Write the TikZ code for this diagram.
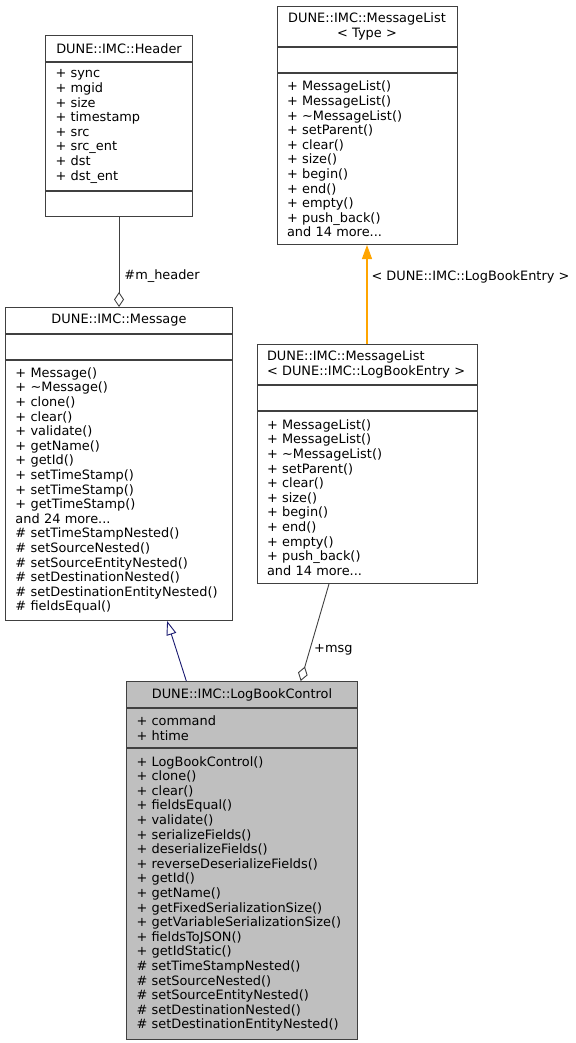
\documentclass[tikz,border=0pt]{standalone}
\usepackage{fontspec}
\setmainfont{DejaVu Sans}
\usepackage{xcolor}
\usetikzlibrary{positioning}
\usetikzlibrary{arrows.meta}
\usetikzlibrary{calc}
\definecolor{edgegray}{HTML}{404040}
\definecolor{isablue}{HTML}{191970}
\definecolor{tmplorange}{HTML}{FFA500}
\tikzset{umlbox/.style={draw=edgegray, fill=white, line width=1pt, anchor=north west,
inner xsep=10pt, inner ysep=0pt, align=left, font=\fontsize{12.9}{14.6}\selectfont},
umltitle/.style={umlbox, align=center},
lbl/.style={inner sep=3pt, font=\fontsize{12.9}{14.6}\selectfont},
hasa/.style={draw=edgegray, line width=0.9pt, -{Diamond[open, length=15pt, width=10pt]}},
isa/.style={draw=isablue, line width=0.9pt, -{Triangle[open, length=14pt, width=10pt]}},
tmpl/.style={draw=tmplorange, line width=1.1pt, -{Triangle[length=14pt, width=10pt]}}}

\begin{document}
\begin{tikzpicture}[x=1pt, y=-1pt]
\useasboundingbox (0,0) rectangle (575,1043);

\node[umltitle, text width=127pt, minimum height=26pt] (hdr) at (45,35) {DUNE::IMC::Header};
\node[umlbox, text width=127pt, minimum height=128pt, below=0pt of hdr] (hdrAttr)
  {+ sync\\+ mgid\\+ size\\+ timestamp\\+ src\\+ src\_ent\\+ dst\\+ dst\_ent};
\node[umlbox, text width=127pt, minimum height=25pt, below=0pt of hdrAttr] (hdrOps) {};

\node[umltitle, text width=160pt, minimum height=40pt] (mlt) at (276.5,6) {DUNE::IMC::MessageList\\< Type >};
\node[umlbox, text width=160pt, minimum height=25pt, below=0pt of mlt] (mltAttr) {};
\node[umlbox, text width=160pt, minimum height=171pt, below=0pt of mltAttr] (mltOps)
  {+ MessageList()\\+ MessageList()\\+ \textasciitilde MessageList()\\+ setParent()\\+ clear()\\+ size()\\+ begin()\\+ end()\\+ empty()\\+ push\_back()\\and 14 more...};

\node[umltitle, text width=207pt, minimum height=26pt] (msg) at (5,307) {DUNE::IMC::Message};
\node[umlbox, text width=207pt, minimum height=25pt, below=0pt of msg] (msgAttr) {};
\node[umlbox, text width=207pt, minimum height=260pt, below=0pt of msgAttr] (msgOps)
  {+ Message()\\+ \textasciitilde Message()\\+ clone()\\+ clear()\\+ validate()\\+ getName()\\+ getId()\\+ setTimeStamp()\\+ setTimeStamp()\\+ getTimeStamp()\\and 24 more...\\\# setTimeStampNested()\\\# setSourceNested()\\\# setSourceEntityNested()\\\# setDestinationNested()\\\# setDestinationEntityNested()\\\# fieldsEqual()};

\node[umlbox, text width=200pt, minimum height=40pt] (mll) at (256.5,344) {DUNE::IMC::MessageList\\< DUNE::IMC::LogBookEntry >};
\node[umlbox, text width=200pt, minimum height=25pt, below=0pt of mll] (mllAttr) {};
\node[umlbox, text width=200pt, minimum height=172pt, below=0pt of mllAttr] (mllOps)
  {+ MessageList()\\+ MessageList()\\+ \textasciitilde MessageList()\\+ setParent()\\+ clear()\\+ size()\\+ begin()\\+ end()\\+ empty()\\+ push\_back()\\and 14 more...};

\node[umltitle, fill=black!25, text width=211pt, minimum height=26pt] (lbc) at (126,681) {DUNE::IMC::LogBookControl};
\node[umlbox, fill=black!25, text width=211pt, minimum height=39pt, below=0pt of lbc] (lbcAttr) {+ command\\+ htime};
\node[umlbox, fill=black!25, text width=211pt, minimum height=291pt, below=0pt of lbcAttr] (lbcOps)
  {+ LogBookControl()\\+ clone()\\+ clear()\\+ fieldsEqual()\\+ validate()\\+ serializeFields()\\+ deserializeFields()\\+ reverseDeserializeFields()\\+ getId()\\+ getName()\\+ getFixedSerializationSize()\\+ getVariableSerializationSize()\\+ fieldsToJSON()\\+ getIdStatic()\\\# setTimeStampNested()\\\# setSourceNested()\\\# setSourceEntityNested()\\\# setDestinationNested()\\\# setDestinationEntityNested()};

\draw[hasa] (hdrOps.south) -- node[lbl, right=2pt, pos=0.66] {\#m\_header} (msg.north);
\draw[tmpl] (mll.north) -- node[lbl, right=1pt, pos=0.68] {< DUNE::IMC::LogBookEntry >} (mltOps.south);
\draw[isa] ($(lbc.north west)!0.26!(lbc.north east)$) -- ($(msgOps.south west)!0.711!(msgOps.south east)$);
\draw[hasa] ($(mllOps.south west)!0.328!(mllOps.south east)$) -- node[lbl, right=1pt, pos=0.68] {+msg} ($(lbc.north west)!0.753!(lbc.north east)$);
\end{tikzpicture}
\end{document}
